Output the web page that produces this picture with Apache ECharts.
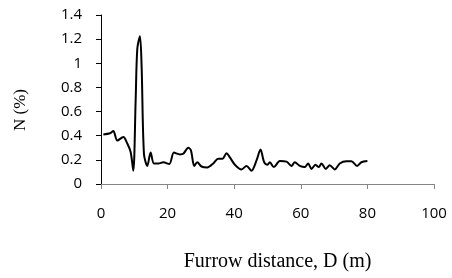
<!DOCTYPE html>
<html>
<head>
<meta charset="utf-8">
<script src="https://cdn.jsdelivr.net/npm/echarts@6/dist/echarts.min.js"></script>
<style>
  html, body { margin: 0; padding: 0; background: #fff; }
  #chart { width: 452px; height: 278px; }
</style>
</head>
<body>
<div id="chart"></div>
<script>
// furrow distance (m)
const distance = [0.7, 2.7, 3.7, 4.9, 6.7, 7.9, 8.9, 9.7, 10.4, 10.9, 11.7, 12.2, 12.9, 13.9, 14.9, 15.9,
  17.2, 18.7, 20.5, 21.9, 23.7, 24.7, 26.2, 27.0, 28.0, 28.9, 30.2, 31.9, 33.7, 35.2, 36.5, 37.7,
  38.7, 40.2, 42.2, 43.7, 45.2, 46.7, 47.9, 49.0, 50.0, 50.7, 51.9, 53.7, 55.7, 57.2, 58.2, 59.7,
  61.2, 62.2, 63.2, 64.4, 65.4, 66.2, 67.5, 68.7, 70.2, 71.7, 73.7, 75.2, 76.9, 78.2, 80.0];
// N (%)
const nitrogen = [0.41, 0.42, 0.44, 0.36, 0.39, 0.335, 0.265, 0.11, 0.69, 1.12, 1.225, 0.97, 0.25, 0.15, 0.26, 0.17,
  0.17, 0.18, 0.165, 0.26, 0.245, 0.25, 0.30, 0.28, 0.15, 0.18, 0.145, 0.137, 0.17, 0.21, 0.21, 0.255,
  0.22, 0.16, 0.12, 0.15, 0.11, 0.195, 0.285, 0.18, 0.16, 0.18, 0.14, 0.19, 0.185, 0.15, 0.18, 0.15,
  0.14, 0.17, 0.125, 0.16, 0.14, 0.17, 0.125, 0.155, 0.12, 0.17, 0.188, 0.188, 0.15, 0.18, 0.19];

const chart = echarts.init(document.getElementById('chart'));
chart.setOption({
  animation: false,
  grid: { left: 101, right: 18, top: 15, bottom: 94 },
  xAxis: {
    type: 'value', min: 0, max: 100, interval: 20,
    name: 'Furrow distance, D (m)',
    nameLocation: 'middle', nameGap: 68,
    nameTextStyle: { fontFamily: 'Liberation Serif', fontSize: 20, color: '#000', padding: [0, 0, 0, 20] },
    axisLine: { lineStyle: { color: '#868686', width: 1 } },
    axisTick: { show: true, length: 5, lineStyle: { color: '#868686' } },
    axisLabel: { fontFamily: 'Open Sans', fontSize: 15, color: '#000', margin: 22 },
    splitLine: { show: false }
  },
  yAxis: {
    type: 'value', min: 0, max: 1.4, interval: 0.2,
    name: 'N (%)',
    nameLocation: 'middle', nameGap: 72, nameRotate: 90,
    nameTextStyle: { fontFamily: 'Liberation Serif', fontSize: 17, color: '#000', padding: [0, 21, 0, 0] },
    axisLine: { show: true, lineStyle: { color: '#000', width: 1 } },
    axisTick: { show: true, length: 5, lineStyle: { color: '#000' } },
    axisLabel: { fontFamily: 'Open Sans', fontSize: 15, color: '#000', margin: 19 },
    splitLine: { show: false }
  },
  series: [{
    type: 'line',
    data: distance.map((d, i) => [d, nitrogen[i]]),
    smooth: 0.3,
    symbol: 'none',
    lineStyle: { color: '#000', width: 2 }
  }]
});
</script>
</body>
</html>
